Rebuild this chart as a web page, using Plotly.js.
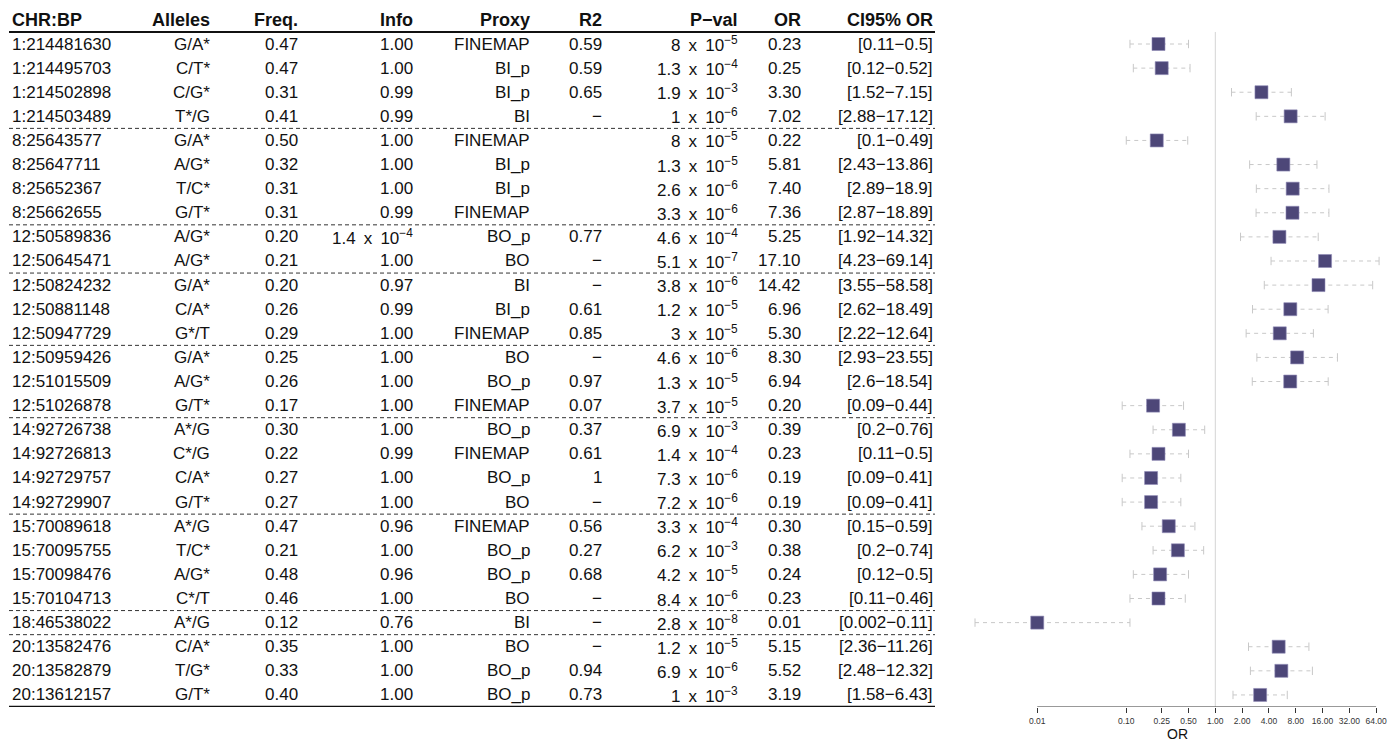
<!DOCTYPE html>
<html>
<head>
<meta charset="utf-8">
<script src="https://cdn.plot.ly/plotly-3.0.1.min.js"></script>
<style>html,body{margin:0;padding:0;background:#fff;}#chart{width:1400px;height:740px;}</style>
</head>
<body>
<div id="chart"></div>
<script>
// ---------- data ----------
const chrbp = ["1:214481630","1:214495703","1:214502898","1:214503489","8:25643577","8:25647711","8:25652367","8:25662655","12:50589836","12:50645471","12:50824232","12:50881148","12:50947729","12:50959426","12:51015509","12:51026878","14:92726738","14:92726813","14:92729757","14:92729907","15:70089618","15:70095755","15:70098476","15:70104713","18:46538022","20:13582476","20:13582879","20:13612157"];
const alleles = ["G/A*","C/T*","C/G*","T*/G","G/A*","A/G*","T/C*","G/T*","A/G*","A/G*","G/A*","C/A*","G*/T","G/A*","A/G*","G/T*","A*/G","C*/G","C/A*","G/T*","A*/G","T/C*","A/G*","C*/T","A*/G","C/A*","T/G*","G/T*"];
const freq = [0.47,0.47,0.31,0.41,0.50,0.32,0.31,0.31,0.20,0.21,0.20,0.26,0.29,0.25,0.26,0.17,0.30,0.22,0.27,0.27,0.47,0.21,0.48,0.46,0.12,0.35,0.33,0.40];
const infoMant = ["1.00","1.00","0.99","0.99","1.00","1.00","1.00","0.99","1.4","1.00","0.97","0.99","1.00","1.00","1.00","1.00","1.00","0.99","1.00","1.00","0.96","1.00","0.96","1.00","0.76","1.00","1.00","1.00"];
const infoExp = [null,null,null,null,null,null,null,null,4,null,null,null,null,null,null,null,null,null,null,null,null,null,null,null,null,null,null,null];
const proxy = ["FINEMAP","BI_p","BI_p","BI","FINEMAP","BI_p","BI_p","FINEMAP","BO_p","BO","BI","BI_p","FINEMAP","BO","BO_p","FINEMAP","BO_p","FINEMAP","BO_p","BO","FINEMAP","BO_p","BO_p","BO","BI","BO","BO_p","BO_p"];
const r2 = ["0.59","0.59","0.65","−","","","","","0.77","−","−","0.61","0.85","−","0.97","0.07","0.37","0.61","1","−","0.56","0.27","0.68","−","−","−","0.94","0.73"];
const pMant = ["8","1.3","1.9","1","8","1.3","2.6","3.3","4.6","5.1","3.8","1.2","3","4.6","1.3","3.7","6.9","1.4","7.3","7.2","3.3","6.2","4.2","8.4","2.8","1.2","6.9","1"];
const pExp = [5,4,3,6,5,5,6,6,4,7,6,5,5,6,5,5,3,4,6,6,4,3,5,6,8,5,6,3];
const orVal = [0.23,0.25,3.30,7.02,0.22,5.81,7.40,7.36,5.25,17.10,14.42,6.96,5.30,8.30,6.94,0.20,0.39,0.23,0.19,0.19,0.30,0.38,0.24,0.23,0.01,5.15,5.52,3.19];
const ciLo = [0.11,0.12,1.52,2.88,0.1,2.43,2.89,2.87,1.92,4.23,3.55,2.62,2.22,2.93,2.6,0.09,0.2,0.11,0.09,0.09,0.15,0.2,0.12,0.11,0.002,2.36,2.48,1.58];
const ciHi = [0.5,0.52,7.15,17.12,0.49,13.86,18.9,18.89,14.32,69.14,58.58,18.49,12.64,23.55,18.54,0.44,0.76,0.5,0.41,0.41,0.59,0.74,0.5,0.46,0.11,11.26,12.32,6.43];
const groupEnds = [4,8,10,13,16,20,24,25];
const headers = ["CHR:BP","Alleles","Freq.","Info","Proxy","R2","P−val","OR","CI95% OR"];
const tickVals = [0.01,0.1,0.25,0.5,1,2,4,8,16,32,64];
const tickText = ["0.01","0.10","0.25","0.50","1.00","2.00","4.00","8.00","16.00","32.00","64.00"];
const xTitle = "OR";

// ---------- layout helpers ----------
const W = 1400, H = 740;
const FONT = "Liberation Sans, Arial, Helvetica, sans-serif";
const colX = [10,212,300,415,532,604,740,803,935];
const colAnchor = ["left","right","right","right","right","right","right","right","right"];
const rows = chrbp.map((_, i) => i + 1);
const sci = (m, e) => m + "\u2009 x \u200910<sup>−" + e + "</sup>";

const columns = [
  chrbp,
  alleles,
  freq.map(v => v.toFixed(2)),
  infoMant.map((m, i) => infoExp[i] === null ? m : sci(m, infoExp[i])),
  proxy,
  r2,
  pMant.map((m, i) => sci(m, pExp[i])),
  orVal.map(v => v.toFixed(2)),
  ciLo.map((lo, i) => "[" + lo + "−" + ciHi[i] + "]")
];

const annotations = [];
headers.forEach((h, c) => {
  annotations.push({
    text: "<b>" + h + "</b>", xref: "paper", yref: "y",
    x: colX[c] / W, y: 0, xanchor: colAnchor[c], yanchor: "middle",
    showarrow: false, font: {family: FONT, size: 18, color: "#111"}
  });
});
columns.forEach((col, c) => {
  col.forEach((t, i) => {
    if (t === "") return;
    annotations.push({
      text: t, xref: "paper", yref: "y",
      x: colX[c] / W, y: rows[i], xanchor: colAnchor[c], yanchor: "middle",
      showarrow: false, font: {family: FONT, size: 17, color: "#111"}
    });
  });
});

const px0 = 968, px1 = 1386, pxOne = 1215.3, pxPerDec = 89.03;
annotations.push({
  text: xTitle, xref: "paper", yref: "paper",
  x: ((px0 + px1) / 2) / W, y: 0, xanchor: "center", yanchor: "bottom", yshift: -3,
  showarrow: false, borderpad: 0, font: {family: FONT, size: 14, color: "#111"}
});

const shapes = [];
shapes.push({type: "line", xref: "paper", yref: "y", x0: 9 / W, x1: 935 / W, y0: 0.5, y1: 0.5, line: {color: "#111", width: 2}});
shapes.push({type: "line", xref: "paper", yref: "y", x0: 9 / W, x1: 935 / W, y0: 28.5, y1: 28.5, line: {color: "#111", width: 2.5}});
groupEnds.forEach(g => {
  shapes.push({type: "line", xref: "paper", yref: "y", x0: 9 / W, x1: 935 / W, y0: g + 0.5, y1: g + 0.5, line: {color: "#333", width: 1, dash: "4px,3px"}});
});
shapes.push({type: "line", xref: "x", yref: "y", x0: 1, x1: 1, y0: 0.5, y1: 28.5, line: {color: "#d4d4d4", width: 1}});
shapes.push({type: "line", xref: "x", yref: "y", x0: tickVals[0], x1: tickVals[tickVals.length - 1], y0: 28.5, y1: 28.5, line: {color: "#333", width: 1}});

// ---------- traces ----------
const wx = [], wy = [];
ciLo.forEach((lo, i) => { wx.push(lo, ciHi[i], null); wy.push(rows[i], rows[i], null); });
const whiskers = {
  type: "scatter", mode: "lines", x: wx, y: wy, hoverinfo: "skip",
  line: {color: "#c8c8c8", width: 1, dash: "4px,4px"}
};
const caps = {
  type: "scatter", mode: "markers", x: ciLo.concat(ciHi), y: rows.concat(rows), hoverinfo: "skip",
  marker: {symbol: "line-ns-open", size: 6, color: "#c8c8c8", line: {color: "#c8c8c8", width: 1}}
};
const points = {
  type: "scatter", mode: "markers", x: orVal, y: rows, hoverinfo: "skip",
  marker: {symbol: "square", size: 13, color: "#4d4778", line: {color: "#8f8ab5", width: 0.6}}
};

const layout = {
  width: W, height: H,
  margin: {l: 0, r: 0, t: 0, b: 0},
  paper_bgcolor: "#fff", plot_bgcolor: "rgba(0,0,0,0)",
  showlegend: false, hovermode: false,
  font: {family: FONT, color: "#111"},
  xaxis: {
    type: "log", domain: [px0 / W, px1 / W],
    range: [(px0 - pxOne) / pxPerDec, (px1 - pxOne) / pxPerDec],
    tickvals: tickVals, ticktext: tickText,
    ticks: "outside", ticklen: 5, tickwidth: 1, tickcolor: "#333",
    showline: false, showgrid: false, zeroline: false,
    tickfont: {family: FONT, size: 8.5, color: "#333"},
    ticklabelstandoff: 1,
    automargin: false
  },
  yaxis: {
    domain: [33 / H, 1], range: [28.5, -0.8257], visible: false,
    showgrid: false, zeroline: false
  },
  annotations: annotations,
  shapes: shapes
};

Plotly.newPlot("chart", [whiskers, caps, points], layout, {staticPlot: true, displayModeBar: false});
</script>
</body>
</html>
